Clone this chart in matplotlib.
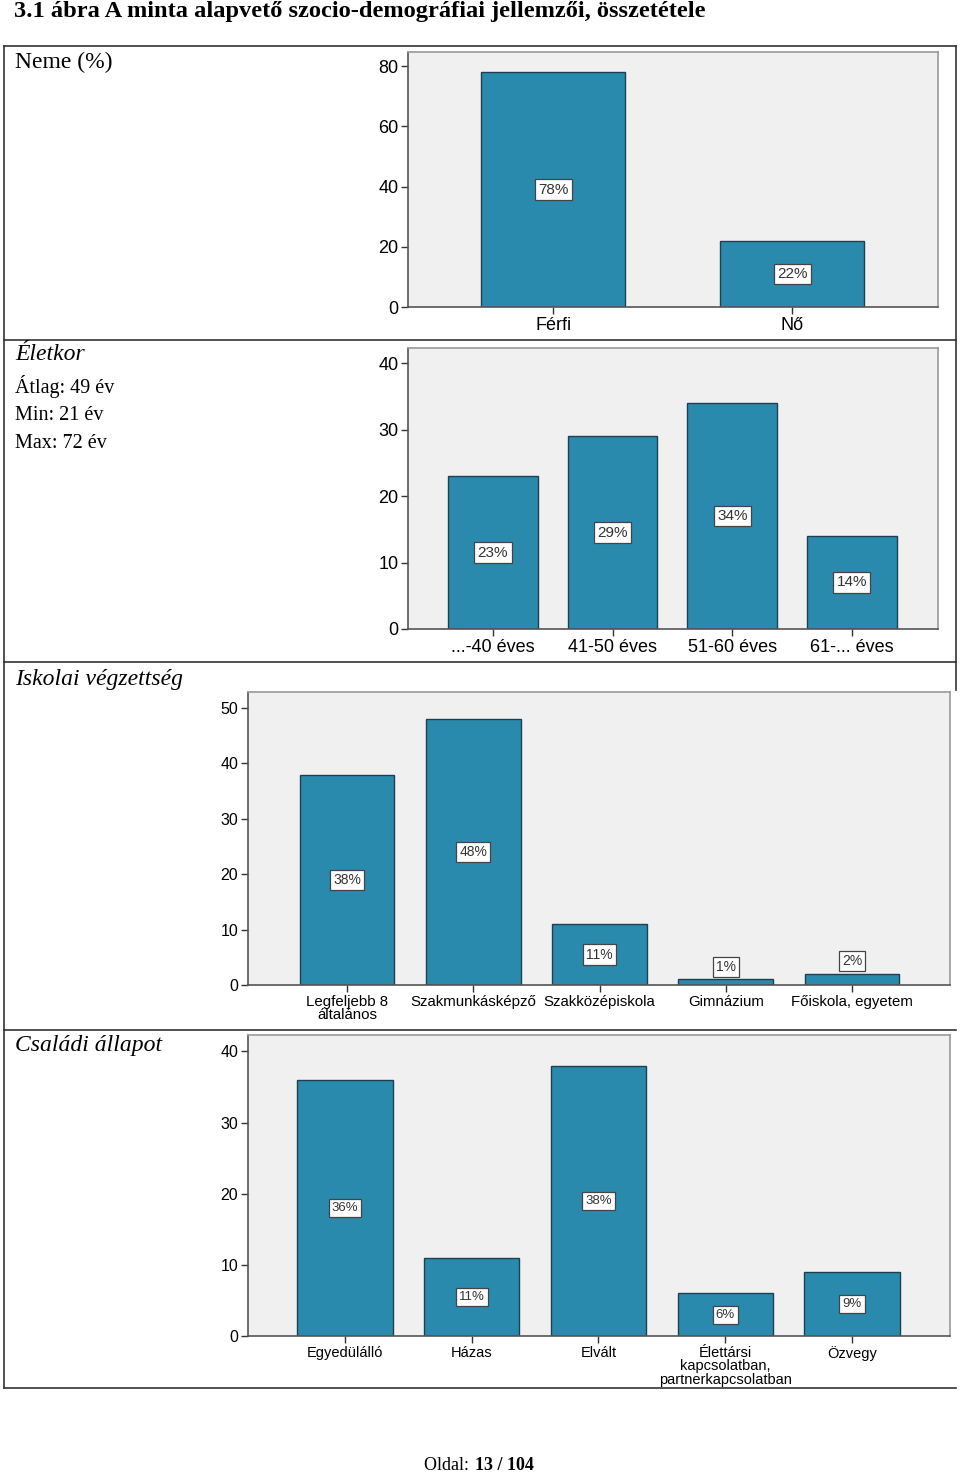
import matplotlib
matplotlib.use("Agg")
import matplotlib.pyplot as plt
from matplotlib.lines import Line2D

W, H = 960, 1475

# ---- data ----
sex_labels = ["Férfi", "Nő"]
sex_values = [78, 22]
age_labels = ["...-40 éves", "41-50 éves", "51-60 éves", "61-... éves"]
age_values = [23, 29, 34, 14]
edu_labels = ["Legfeljebb 8\náltalános", "Szakmunkásképző", "Szakközépiskola", "Gimnázium", "Főiskola, egyetem"]
edu_values = [38, 48, 11, 1, 2]
fam_labels = ["Egyedülálló", "Házas", "Elvált", "Élettársi\nkapcsolatban,\npartnerkapcsolatban", "Özvegy"]
fam_values = [36, 11, 38, 6, 9]

title = "3.1 ábra A minta alapvető szocio-demográfiai jellemzői, összetétele"

BAR = "#2a8aae"
EDGE = "#1f3f50"
BG = "#f0f0f0"
SANS = "Liberation Sans"
SERIF = "Liberation Serif"

fig = plt.figure(figsize=(W / 100, H / 100), dpi=100)
fig.patch.set_facecolor("white")


def rect(x0, y0, x1, y1):
    return [x0 / W, 1 - y1 / H, (x1 - x0) / W, (y1 - y0) / H]


def fx(x):
    return x / W


def fy(y):
    return 1 - y / H


# ---- table lines ----
def hline(y, x0, x1, c="#333333", lw=1.2):
    fig.add_artist(Line2D([fx(x0), fx(x1)], [fy(y), fy(y)], color=c, lw=lw, zorder=0))


def vline(x, y0, y1, c="#333333", lw=1.2):
    fig.add_artist(Line2D([fx(x), fx(x)], [fy(y0), fy(y1)], color=c, lw=lw, zorder=0))


hline(46, 4, 956)
hline(340, 4, 956)
hline(662, 4, 956)
hline(1030, 4, 956)
hline(1388, 4, 956)
vline(4, 46, 1388)
vline(956, 46, 690)

# ---- texts ----
fig.text(fx(14), fy(12), title, fontsize=17.6, fontweight="bold", family=SERIF,
         va="center", ha="left")
fig.text(fx(15), fy(62), "Neme (%)", fontsize=17, family=SERIF, va="center")
fig.text(fx(15), fy(354), "Életkor", fontsize=17, family=SERIF, style="italic", va="center")
fig.text(fx(15), fy(386), "Átlag: 49 év", fontsize=14.5, family=SERIF, va="center")
fig.text(fx(15), fy(415), "Min: 21 év", fontsize=14.5, family=SERIF, va="center")
fig.text(fx(15), fy(443), "Max: 72 év", fontsize=14.5, family=SERIF, va="center")
fig.text(fx(15), fy(679), "Iskolai végzettség", fontsize=17, family=SERIF, style="italic", va="center")
fig.text(fx(15), fy(1045), "Családi állapot", fontsize=17, family=SERIF, style="italic", va="center")
fig.text(fx(424), fy(1465), "Oldal: ", fontsize=13, family=SERIF, va="center", ha="left")
fig.text(fx(475), fy(1465), "13 / 104", fontsize=13, family=SERIF, fontweight="bold",
         va="center", ha="left")


def panel(box, labels, values, xlim, ylim, yticks, width, tick_fs, lab_fs, box_fs, min_inside):
    ax = fig.add_axes(rect(*box))
    ax.set_facecolor(BG)
    xs = list(range(len(values)))
    ax.bar(xs, values, width=width, color=BAR, edgecolor=EDGE, linewidth=1.0, zorder=2)
    ax.set_xlim(*xlim)
    ax.set_ylim(*ylim)
    ax.set_yticks(yticks)
    ax.set_yticklabels([str(t) for t in yticks], fontsize=tick_fs, family=SANS)
    ax.set_xticks(xs)
    ax.set_xticklabels(labels, fontsize=lab_fs, family=SANS, linespacing=0.95)
    ax.tick_params(axis="both", length=5, width=1, color="#333333", pad=2)
    for s in ["left", "bottom"]:
        ax.spines[s].set_color("#555555")
        ax.spines[s].set_linewidth(1.2)
    for s in ["top", "right"]:
        ax.spines[s].set_color("#9a9a9a")
        ax.spines[s].set_linewidth(1.2)
    for x, v in zip(xs, values):
        if v >= min_inside:
            ax.text(x, v / 2, f"{v}%", ha="center", va="center", fontsize=box_fs, family=SANS,
                    color="#333333", zorder=3,
                    bbox=dict(boxstyle="square,pad=0.22", fc="white", ec="#444444", lw=0.9))
        else:
            ax.annotate(f"{v}%", (x, v), xytext=(0, 4), textcoords="offset points",
                        ha="center", va="bottom", fontsize=box_fs, family=SANS,
                        color="#333333", zorder=3,
                        bbox=dict(boxstyle="square,pad=0.22", fc="white", ec="#444444", lw=0.9))
    return ax


panel((408, 52, 938, 307), sex_labels, sex_values, (-0.607, 1.61), (0, 84.7),
      [0, 20, 40, 60, 80], 0.6, 13, 13, 11, 5)
panel((408, 348, 938, 629), age_labels, age_values, (-0.71, 3.72), (0, 42.3),
      [0, 10, 20, 30, 40], 0.75, 13, 13, 11, 5)
panel((248, 692, 950, 985), edu_labels, edu_values, (-0.784, 4.776), (0, 52.9),
      [0, 10, 20, 30, 40, 50], 0.75, 11.5, 10.8, 10, 5)
panel((248, 1035, 950, 1336), fam_labels, fam_values, (-0.765, 4.773), (0, 42.3),
      [0, 10, 20, 30, 40], 0.75, 11.5, 10.5, 9.5, 5)

fig.savefig("out.png", dpi=100, facecolor="white")
